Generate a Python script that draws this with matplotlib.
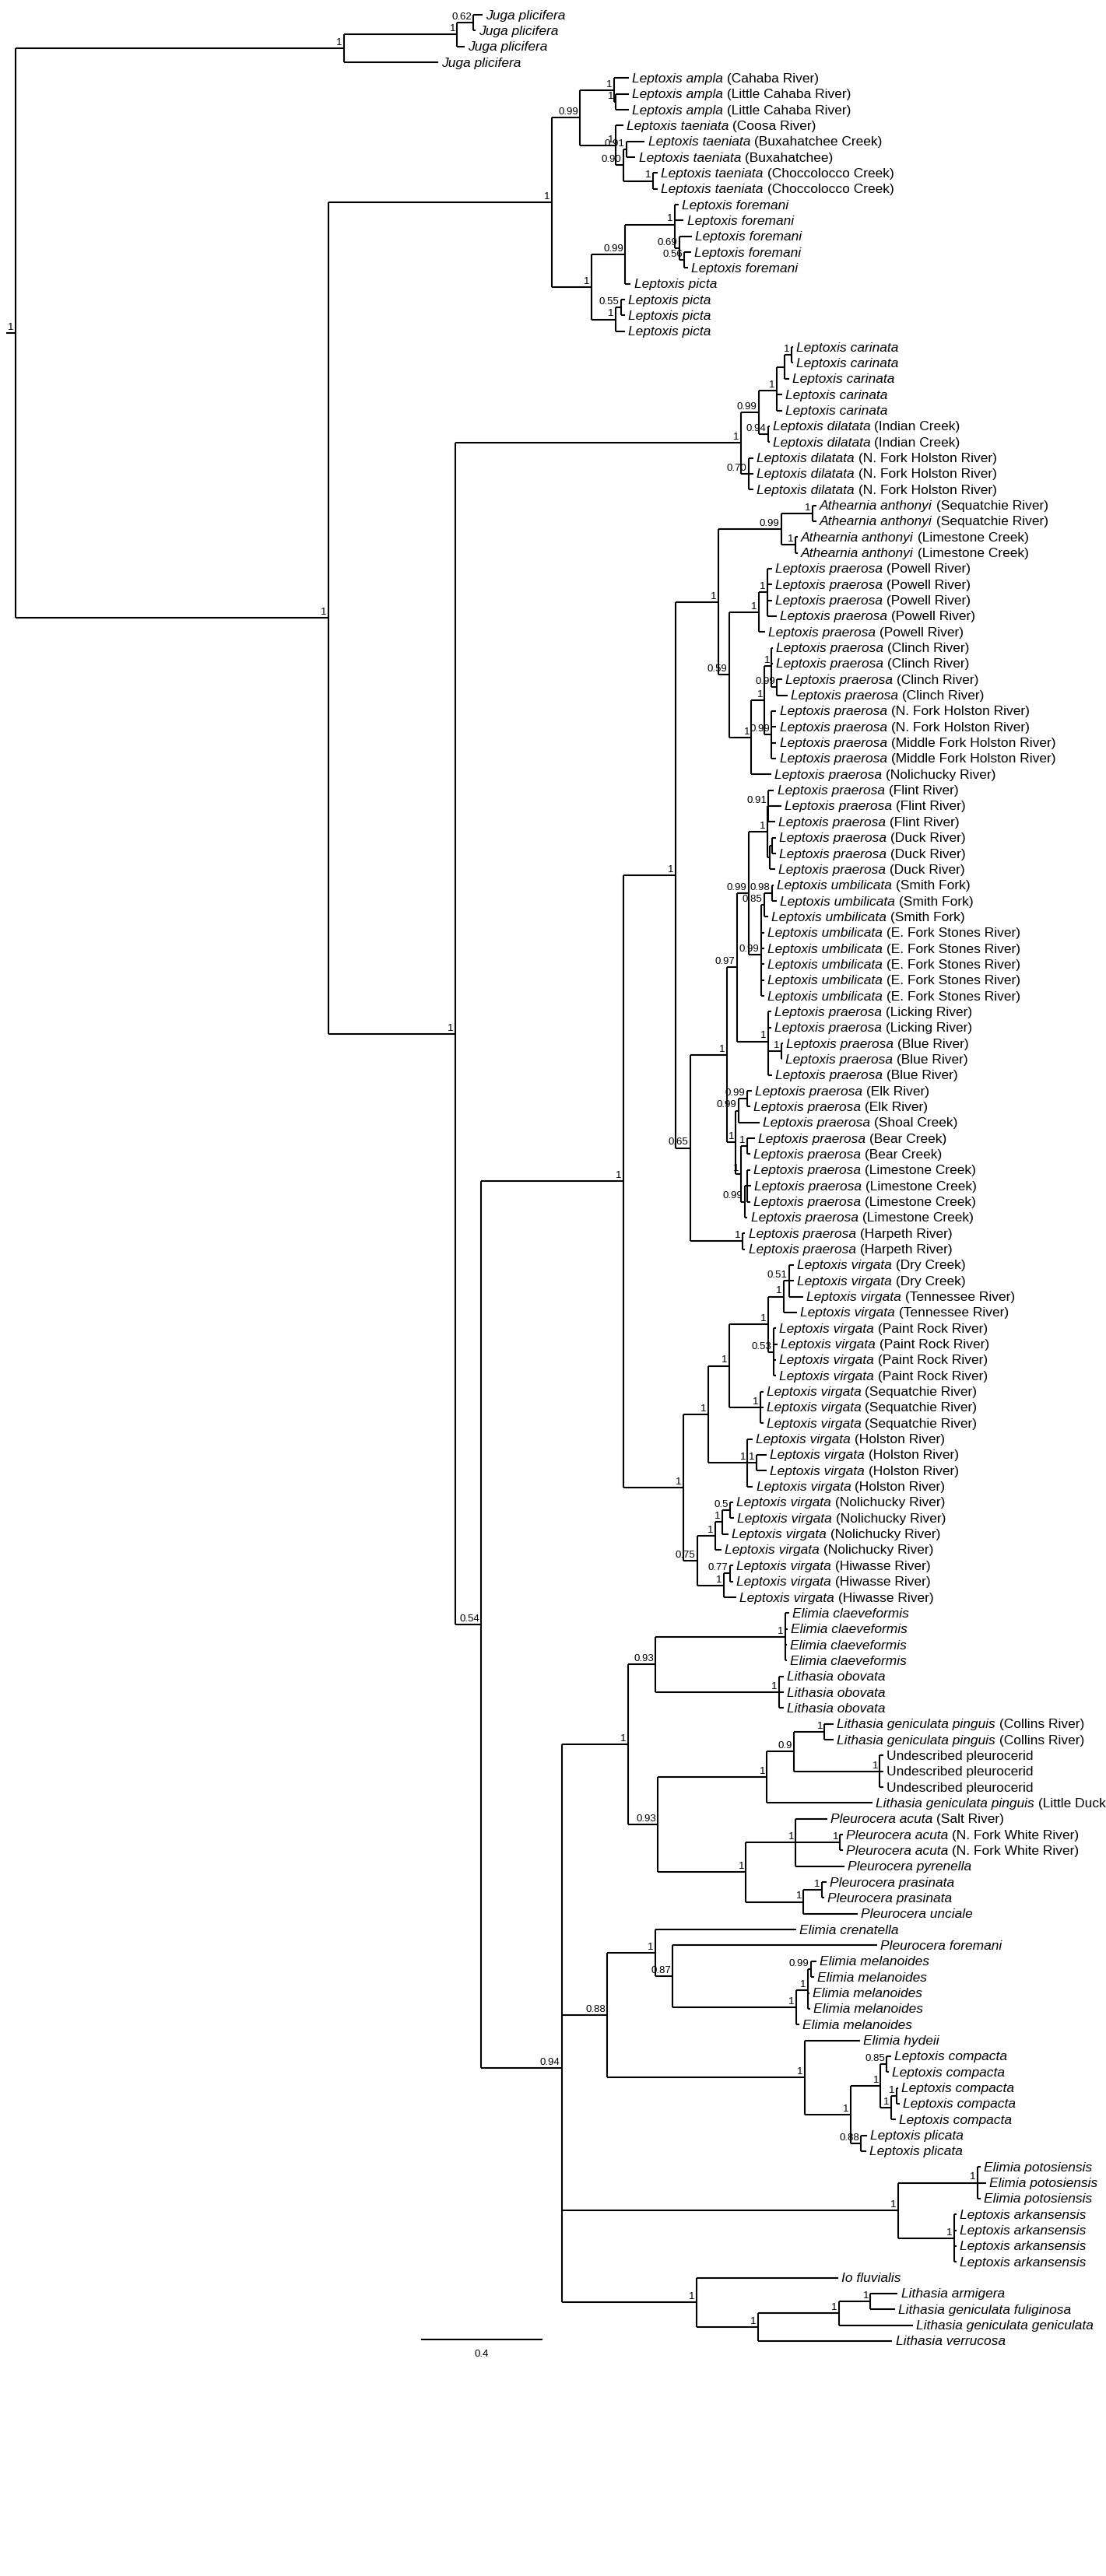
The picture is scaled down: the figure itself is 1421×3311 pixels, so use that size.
import matplotlib
matplotlib.use("Agg")
import matplotlib.pyplot as plt

plt.rcParams['font.family'] = ['Liberation Sans Narrow', 'Liberation Sans', 'DejaVu Sans']

# tip names: "italic part|locality"; "=" marks a non-italic name
juga = "(((Juga plicifera:.031,Juga plicifera:.008)0.62:.055,Juga plicifera:.026)1:.377,Juga plicifera:.314)1:1.096"

amp_pic = ("(((Leptoxis ampla|Cahaba River:.049,(Leptoxis ampla|Little Cahaba River:.044,Leptoxis ampla|Little Cahaba River:.044)1:.005)1:.114,"
           "(Leptoxis taeniata|Coosa River:.026,((Leptoxis taeniata|Buxahatchee Creek:.062,Leptoxis taeniata|Buxahatchee:.031)0.91:.010,"
           "(Leptoxis taeniata|Choccolocco Creek:.016,Leptoxis taeniata|Choccolocco Creek:.016)1:.099)0.90:.026)1:.119)0.99:.094,"
           "(((Leptoxis foremani:.013,Leptoxis foremani:.031,(Leptoxis foremani:.042,(Leptoxis foremani:.023,Leptoxis foremani:.013)0.56:.016)0.69:.016)1:.164,"
           "Leptoxis picta:.018)0.99:.114,((Leptoxis picta:.013,Leptoxis picta:.013)0.55:.018,Leptoxis picta:.031)1:.081)1:.132)1:.745")

car_dil = ("(((((Leptoxis carinata:.005,Leptoxis carinata:.005)1:.023,Leptoxis carinata:.016):.026,Leptoxis carinata:.018,Leptoxis carinata:.018)1:.060,"
           "(Leptoxis dilatata|Indian Creek:.005,Leptoxis dilatata|Indian Creek:.005)0.94:.031)0.99:.060,"
           "(Leptoxis dilatata|N. Fork Holston River:.016,Leptoxis dilatata|N. Fork Holston River:.016,Leptoxis dilatata|N. Fork Holston River:.016)0.70:.026)1:.953")

P = "Leptoxis praerosa|"
U = "Leptoxis umbilicata|"
V = "Leptoxis virgata|"
AS = "Athearnia anthonyi|Sequatchie River"
AL = "Athearnia anthonyi|Limestone Creek"
ath = f"(({AS}:.013,{AS}:.013)1:.104,({AL}:.008,{AL}:.008)1:.047)0.99:.21"
pow_ = f"(({P}Powell River:.016,{P}Powell River:.016,{P}Powell River:.016,{P}Powell River:.031)1:.029,{P}Powell River:.021)1:.099"
ch = (f"((({P}Clinch River:.005,{P}Clinch River:.005,({P}Clinch River:.018,{P}Clinch River:.036)0.99:.018)1:.023,"
      f"({P}N. Fork Holston River:.016,{P}N. Fork Holston River:.016,{P}Middle Fork Holston River:.016,{P}Middle Fork Holston River:.016)0.99:.023)1:.044,"
      f"{P}Nolichucky River:.065)1:.075")
fd = (f"(({P}Flint River:.018,{P}Flint River:.042,{P}Flint River:.021)0.91:.005,"
      f"(({P}Duck River:.013,{P}Duck River:.013):.008,{P}Duck River:.018):.008)1:.062")
umb = (f"((({U}Smith Fork:.005,{U}Smith Fork:.016)0.98:.026,{U}Smith Fork:.013)0.85:.010,"
       + ",".join([f"{U}E. Fork Stones River:.010"] * 5) + ")0.99:.042")
lb = f"({P}Licking River:.010,{P}Licking River:.010,({P}Blue River:.005,{P}Blue River:.003)1:.044,{P}Blue River:.013)1:.104"
el = (f"((({P}Elk River:.016,{P}Elk River:.010)0.99:.029,{P}Shoal Creek:.070)0.99:.008,"
      f"(({P}Bear Creek:.026,{P}Bear Creek:.010)1:.021,(({P}Limestone Creek:.010,{P}Limestone Creek:.013,{P}Limestone Creek:.010):.008,{P}Limestone Creek:.010)0.99:.013)1:.016)1:.031")
n065 = f"(((({fd},{umb})0.99:.039,{lb})0.97:.034,{el})1:.122,({P}Harpeth River:.010,{P}Harpeth River:.010)1:.174)0.65:.049"
n868 = f"(({ath},({pow_},{ch})0.59:.036)1:.143,{n065})1:.174"
vir = (f"(((((({V}Dry Creek:.016,{V}Dry Creek:.016,{V}Tennessee River:.047)0.51:.018,{V}Tennessee River:.044)1:.052,"
       f"({V}Paint Rock River:.008,{V}Paint Rock River:.013,{V}Paint Rock River:.008,{V}Paint Rock River:.008)0.53:.018)1:.13,"
       f"({V}Sequatchie River:.010,{V}Sequatchie River:.010,{V}Sequatchie River:.010)1:.104)1:.07,"
       f"({V}Holston River:.016,({V}Holston River:.034,{V}Holston River:.034)1:.029,{V}Holston River:.018)1:.132)1:.083,"
       f"(((({V}Nolichucky River:.010,{V}Nolichucky River:.013)0.5:.026,{V}Nolichucky River:.021)1:.023,{V}Nolichucky River:.021)1:.060,"
       f"(({V}Hiwasse River:.010,{V}Hiwasse River:.010)0.77:.021,{V}Hiwasse River:.042)1:.088)0.75:.047)1:.2")
e1 = ("(((Elimia claeveformis:.013,Elimia claeveformis:.008,Elimia claeveformis:.005,Elimia claeveformis:.005)1:.434,"
      "(Lithasia obovata:.016,Lithasia obovata:.016,Lithasia obovata:.016)1:.413)0.93:.091,"
      "((((Lithasia geniculata pinguis|Collins River:.031,Lithasia geniculata pinguis|Collins River:.031)1:.101,"
      "(=Undescribed pleurocerid:.013,=Undescribed pleurocerid:.013,=Undescribed pleurocerid:.013)1:.286)0.9:.091,"
      "Lithasia geniculata pinguis|Little Duck River:.353)1:.364,"
      "((Pleurocera acuta|Salt River:.106,(Pleurocera acuta|N. Fork White River:.010,Pleurocera acuta|N. Fork White River:.010)1:.148,Pleurocera pyrenella:.164)1:.166,"
      "((Pleurocera prasinata:.016,Pleurocera prasinata:.008)1:.062,Pleurocera unciale:.182)1:.192)1:.294)0.93:.099)1:.221")
e088 = ("((Elimia crenatella:.47,(Pleurocera foremani:.683,(((Elimia melanoides:.018,Elimia melanoides:.010)0.99:.010,Elimia melanoides:.005,Elimia melanoides:.008)1:.039,"
        "Elimia melanoides:.010)1:.413)0.87:.057)1:.161,"
        "(Elimia hydeii:.184,(((Leptoxis compacta:.016,Leptoxis compacta:.008)0.85:.021,((Leptoxis compacta:.005,Leptoxis compacta:.010)1:.018,Leptoxis compacta:.016)1:.036)1:.099,"
        "(Leptoxis plicata:.021,Leptoxis plicata:.018)0.88:.034)1:.153)1:.66)0.88:.151")
pot = ("((Elimia potosiensis:.010,Elimia potosiensis:.029,Elimia potosiensis:.010)1:.265,"
       "(Leptoxis arkansensis:.008,Leptoxis arkansensis:.008,Leptoxis arkansensis:.008,Leptoxis arkansensis:.008)1:.187)1:1.122")
io = "(Io fluvialis:.473,(((Lithasia armigera:.091,Lithasia geniculata fuliginosa:.081)1:.106,Lithasia geniculata geniculata:.247)1:.27,Lithasia verrucosa:.449)1:.205)1:.449"

newick = f"({juga},({amp_pic},({car_dil},(({n868},{vir})1:.475,({e1},{e088},{pot},{io})0.94:.27)0.54:.086)1:.423)1:1.044)1:.031;"


def parse(s):
    pos = 0

    def node():
        nonlocal pos
        n = {"children": [], "name": "", "label": "", "bl": 0.0}
        if s[pos] == "(":
            pos += 1
            while True:
                n["children"].append(node())
                if s[pos] == ",":
                    pos += 1
                    continue
                pos += 1  # ')'
                break
            st = pos
            while s[pos] not in ":,);":
                pos += 1
            n["label"] = s[st:pos]
        else:
            st = pos
            while s[pos] not in ":,);":
                pos += 1
            n["name"] = s[st:pos]
        if s[pos] == ":":
            pos += 1
            st = pos
            while s[pos] not in ",);":
                pos += 1
            n["bl"] = float(s[st:pos])
        return n
    return node()


tree = parse(newick)

PX = 385.0       # pixels per unit
DY = 20.34       # pixels per tip
W, H = 1421, 3312
fig = plt.figure(figsize=(W / 100, H / 100), dpi=100)
ax = fig.add_axes([0, 0, 1, 1])
ax.set_xlim(-8 / PX, (W - 8) / PX)
ax.set_ylim((H - 20) / DY, -20 / DY)
ax.axis("off")

LW = 1.5
FS = 12.5
tips = []


def layout(n, x0):
    n["x"] = x0 + n["bl"]
    if not n["children"]:
        n["y"] = len(tips)
        tips.append(n)
    else:
        for c in n["children"]:
            layout(c, n["x"])
        n["y"] = sum(c["y"] for c in n["children"]) / len(n["children"])


layout(tree, 0.0)


def draw(n, x0):
    ax.plot([x0, n["x"]], [n["y"], n["y"]], color="black", lw=LW, solid_capstyle="butt")
    if n["children"]:
        ys = [c["y"] for c in n["children"]]
        ax.plot([n["x"], n["x"]], [min(ys), max(ys)], color="black", lw=LW, solid_capstyle="butt")
        if n["label"]:
            ax.annotate(n["label"], (n["x"], n["y"]), xytext=(-1.5, 1.5), textcoords="offset points",
                        ha="right", va="bottom", fontsize=9.5)
        for c in n["children"]:
            draw(c, n["x"])
    else:
        name = n["name"]
        if name.startswith("="):
            ax.annotate(name[1:], (n["x"], n["y"]), xytext=(3, 0), textcoords="offset points",
                        va="center", ha="left", fontsize=FS)
        else:
            sp, _, loc = name.partition("|")
            t = ax.annotate(sp, (n["x"], n["y"]), xytext=(3, 0), textcoords="offset points",
                            va="center", ha="left", fontsize=FS, style="italic")
            if loc:
                ax.annotate(" (" + loc + ")", xy=(1, 0.5), xycoords=t, va="center", ha="left",
                            fontsize=FS)


draw(tree, 0.0)

# scale bar
sb_x0, sb_y = 534 / PX, 2988 / DY
ax.plot([sb_x0, sb_x0 + 0.4], [sb_y, sb_y], color="black", lw=LW)
ax.text(sb_x0 + 0.2, sb_y + 0.6, "0.4", ha="center", va="top", fontsize=9.5)

fig.savefig("out.png", dpi=100)
